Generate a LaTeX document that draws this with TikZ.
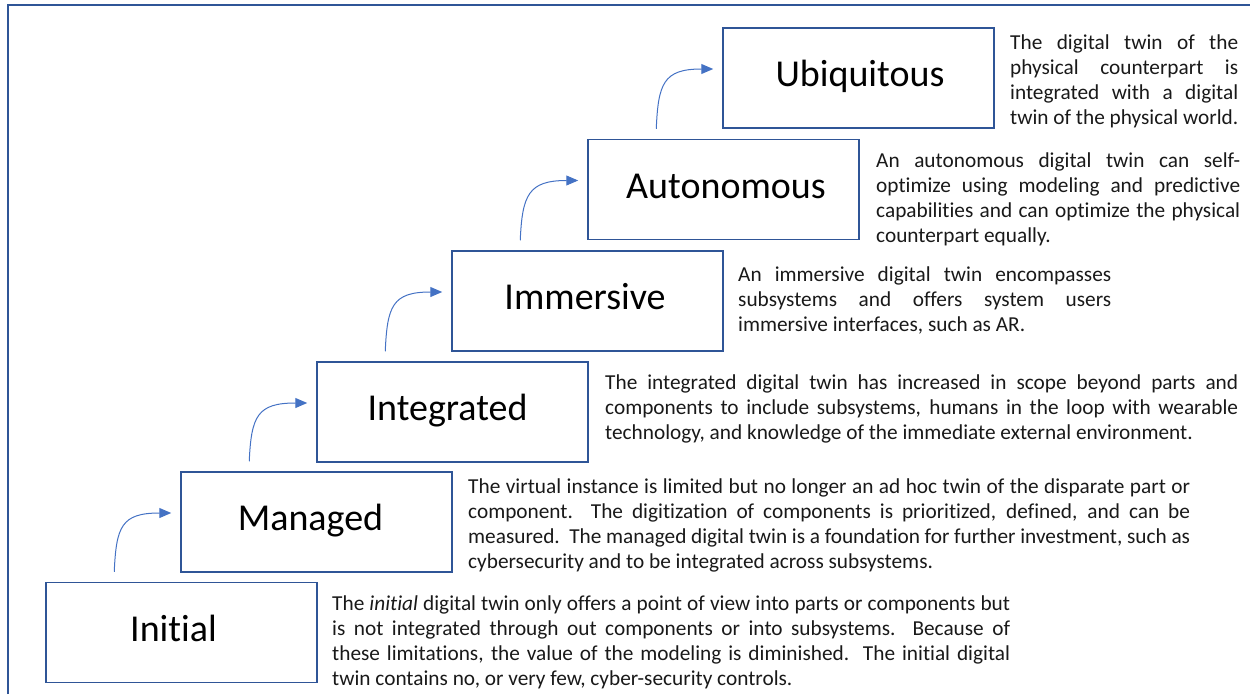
\documentclass[tikz,border=0pt]{standalone}
\usepackage{fontspec}
\setmainfont{Carlito}[Ligatures=CommonOff]
\usetikzlibrary{arrows.meta}
\definecolor{frameblue}{HTML}{2F5597}
\definecolor{arrowblue}{HTML}{4472C4}
\newcommand{\jl}[1]{\hbox to \hsize{#1}}
\newcommand{\fl}[1]{\hbox{#1}}
\newcommand{\parabox}[2]{\vbox{\hsize=#1\relax #2}}
\begin{document}
\begin{tikzpicture}[x=1pt,y=-1pt,
  stage/.style={draw=frameblue, line width=1.5pt, minimum width=271pt, minimum height=100pt,
    inner sep=0pt, font=\fontsize{38}{45}\selectfont, text height=24pt, text depth=7pt},
  desc/.style={anchor=north west, inner sep=0pt, font=\fontsize{21.3}{25}\selectfont, text=black!90},
  arr/.style={draw=arrowblue, line width=1pt, -{Triangle[length=12pt,width=10pt,fill=arrowblue]}},
  frame/.style={draw=frameblue, line width=2.2pt}]
\useasboundingbox (0,0) rectangle (1250,694);
\draw[frame] (8,694) -- (8,5) -- (1250,5);

\node[stage] (initial) at (181.5,632.5) {\hspace*{-16pt}Initial};
\node[stage] (managed) at (316.5,522) {\hspace*{-12pt}Managed};
\node[stage] (integrated) at (452.5,412) {\hspace*{-10pt}Integrated};
\node[stage] (immersive) at (587.5,301) {\hspace*{-5pt}Immersive};
\node[stage] (autonomous) at (723.5,189.5) {\hspace*{5pt}Autonomous};
\node[stage] (ubiquitous) at (858.5,78) {\hspace*{3pt}Ubiquitous};

\foreach \a/\b in {initial/managed, managed/integrated, integrated/immersive, immersive/autonomous, autonomous/ubiquitous}
  \draw[arr] ([xshift=69pt,yshift=10pt]\a.north west) .. controls +(2,-45) and +(-50,0) .. ([xshift=-9pt,yshift=9pt]\b.west);

\node[desc] (dubiquitous) at (1010,31.5) {\parabox{228pt}{%
\jl{\strut The digital twin of the}
\jl{physical counterpart is}
\jl{integrated with a digital}
\fl{twin of the physical world.}}};

\node[desc] (dautonomous) at (876,149.5) {\parabox{364pt}{%
\jl{\strut An autonomous digital twin can self-}
\jl{optimize using modeling and predictive}
\jl{capabilities and can optimize the physical}
\fl{counterpart equally.}}};

\node[desc] (dimmersive) at (738,263.5) {\parabox{373pt}{%
\jl{\strut An immersive digital twin encompasses}
\jl{subsystems and offers system users}
\fl{immersive interfaces, such as AR.}}};

\node[desc] (dintegrated) at (605,371.5) {\parabox{633pt}{%
\jl{\strut The integrated digital twin has increased in scope beyond parts and}
\jl{components to include subsystems, humans in the loop with wearable}
\fl{technology, and knowledge of the immediate external environment.}}};

\node[desc] (dmanaged) at (468,475.5) {\parabox{722pt}{%
\jl{\strut The virtual instance is limited but no longer an ad hoc twin of the disparate part or}
\jl{component.\ \ The digitization of components is prioritized, defined, and can be}
\jl{measured.\ \ The managed digital twin is a foundation for further investment, such as}
\fl{cybersecurity and to be integrated across subsystems.}}};

\node[desc] (dinitial) at (332,592.5) {\parabox{678pt}{%
\jl{\strut The \textit{initial} digital twin only offers a point of view into parts or components but}
\jl{is not integrated through out components or into subsystems.\ \ Because of}
\jl{these limitations, the value of the modeling is diminished.\ \ The initial digital}
\fl{twin contains no, or very few, cyber-security controls.}}};
\end{tikzpicture}
\end{document}
